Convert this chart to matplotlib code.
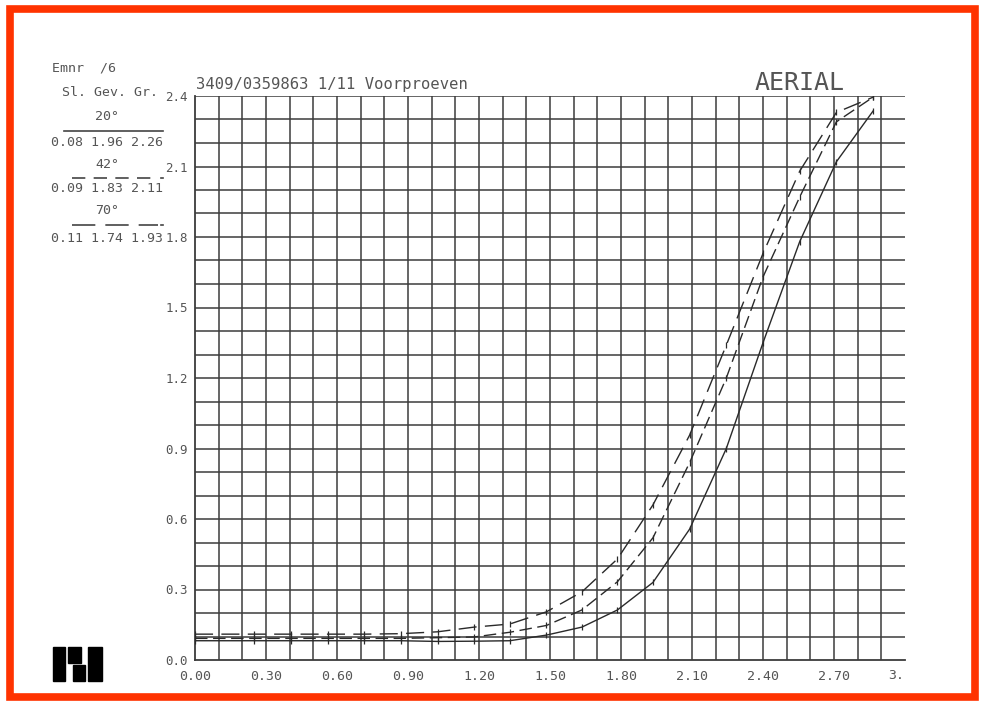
import matplotlib
matplotlib.use("Agg")
import matplotlib.pyplot as plt
from matplotlib.lines import Line2D
from matplotlib.patches import Rectangle
import numpy as np

# ---- data ----
log_e = [0.0, 0.25, 0.405, 0.56, 0.715, 0.87, 1.025, 1.18, 1.33, 1.485,
         1.635, 1.785, 1.935, 2.09, 2.245, 2.40, 2.555, 2.71, 2.865]
dens_20 = [0.082, 0.082, 0.082, 0.082, 0.082, 0.082, 0.079, 0.080, 0.082, 0.106,
           0.140, 0.213, 0.330, 0.557, 0.900, 1.350, 1.780, 2.120, 2.336]
dens_42 = [0.092, 0.092, 0.092, 0.092, 0.092, 0.092, 0.095, 0.098, 0.118, 0.147,
           0.213, 0.333, 0.520, 0.840, 1.200, 1.630, 1.970, 2.290, 2.395]
dens_70 = [0.110, 0.110, 0.110, 0.110, 0.110, 0.112, 0.120, 0.140, 0.153, 0.205,
           0.290, 0.430, 0.660, 0.957, 1.340, 1.730, 2.080, 2.330, 2.395]

x_ticks = [0.0, 0.3, 0.6, 0.9, 1.2, 1.5, 1.8, 2.1, 2.4, 2.7]
x_tick_labels = ["0.00", "0.30", "0.60", "0.90", "1.20", "1.50", "1.80", "2.10", "2.40", "2.70"]
y_ticks = [0.0, 0.3, 0.6, 0.9, 1.2, 1.5, 1.8, 2.1, 2.4]
y_tick_labels = ["0.0", "0.3", "0.6", "0.9", "1.2", "1.5", "1.8", "2.1", "2.4"]

legend_angles = ['20°', '42°', '70°']
legend_values = ['0.08 1.96 2.26', '0.09 1.83 2.11', '0.11 1.74 1.93']

W, H = 981, 702
MONO = 'DejaVu Sans Mono'
TXT = '#555555'
GRID = '#3c3c3c'

fig = plt.figure(figsize=(W / 100, H / 100), dpi=100)
fig.patch.set_facecolor('white')

def fx(px):
    return px / W

def fy(py):
    return 1 - py / H

ax = fig.add_axes([fx(195), fy(660), fx(905) - fx(195), fy(96) - fy(660)])
ax.set_xlim(0, 3.0)
ax.set_ylim(0, 2.4)
for s in ['top', 'right']:
    ax.spines[s].set_visible(False)
for s in ['left', 'bottom']:
    ax.spines[s].set_color(GRID)
    ax.spines[s].set_linewidth(1.3)

# grid
for k in range(1, 25):
    ax.axhline(k * 0.1, color=GRID, lw=1.1, zorder=1)
for k in range(1, 30):
    ax.axvline(k * 0.1, color=GRID, lw=1.1, zorder=1)

ax.set_xticks(x_ticks)
ax.set_xticklabels(x_tick_labels, fontfamily=MONO, fontsize=9.5, color=TXT)
ax.set_yticks(y_ticks)
ax.set_yticklabels(y_tick_labels, fontfamily=MONO, fontsize=9, color=TXT)
ax.tick_params(axis='x', length=0, pad=7)
ax.tick_params(axis='y', length=0, pad=5)
ax.text(2.995, -0.04, "3.", ha='right', va='top', fontfamily=MONO,
        fontsize=9.5, color=TXT, transform=ax.transData, clip_on=False)

lc = '#2a2a2a'
ax.plot(log_e, dens_20, color=lc, lw=1.0, marker='|', ms=4, mew=0.9, zorder=3)
ax.plot(log_e, dens_42, color=lc, lw=1.0, dashes=(9, 4), marker='|', ms=4, mew=0.9, zorder=3)
ax.plot(log_e, dens_70, color=lc, lw=1.0, dashes=(13, 6), marker='|', ms=5, mew=0.9, zorder=3)

# titles
fig.text(fx(196), fy(84), "3409/0359863 1/11 Voorproeven", fontfamily=MONO,
         fontsize=11.2, color=TXT, ha='left', va='center')
fig.text(fx(800), fy(83), "AERIAL", fontfamily=MONO, fontsize=18,
         color=TXT, ha='center', va='center')

# legend block
fig.text(fx(52), fy(68), "Emnr  /6", fontfamily=MONO, fontsize=9.5, color=TXT, va='center')
fig.text(fx(62), fy(92), "Sl. Gev. Gr.", fontfamily=MONO, fontsize=9.5, color=TXT, va='center')
ang_y = [117, 164, 211]
line_y = [131, 178, 225]
val_y = [143, 189, 239]
styles = [None, (8, 5), (14, 6)]
for a, v, ay, ly, vy, st in zip(legend_angles, legend_values, ang_y, line_y, val_y, styles):
    fig.text(fx(107), fy(ay), a, fontfamily=MONO, fontsize=9.5, color=TXT, ha='center', va='center')
    fig.text(fx(51), fy(vy), v, fontfamily=MONO, fontsize=9.5, color=TXT, ha='left', va='center')
    if st is None:
        ln = Line2D([fx(64), fx(163)], [fy(ly), fy(ly)], transform=fig.transFigure,
                    color='#444444', lw=1.2)
    else:
        ln = Line2D([fx(72), fx(158)], [fy(ly), fy(ly)], transform=fig.transFigure,
                    color='#444444', lw=1.2, dashes=st)
        fig.add_artist(Line2D([fx(161), fx(162.5)], [fy(ly), fy(ly)], transform=fig.transFigure,
                              color='#444444', lw=1.2))
    fig.add_artist(ln)

# logo
for (x0, y0, x1, y1) in [(53, 647, 65, 681), (68, 647, 81, 663), (73, 665, 85, 681), (88, 647, 102, 681)]:
    fig.add_artist(Rectangle((fx(x0), fy(y1)), fx(x1) - fx(x0), fy(y0) - fy(y1),
                             transform=fig.transFigure, color='black'))

# red frame
fig.add_artist(Rectangle((fx(9.5), fy(697)), fx(975) - fx(9.5), fy(9) - fy(697),
                         transform=fig.transFigure, fill=False, edgecolor='#ff3300', lw=5.5))

fig.savefig("out.png", dpi=100, facecolor='white')
